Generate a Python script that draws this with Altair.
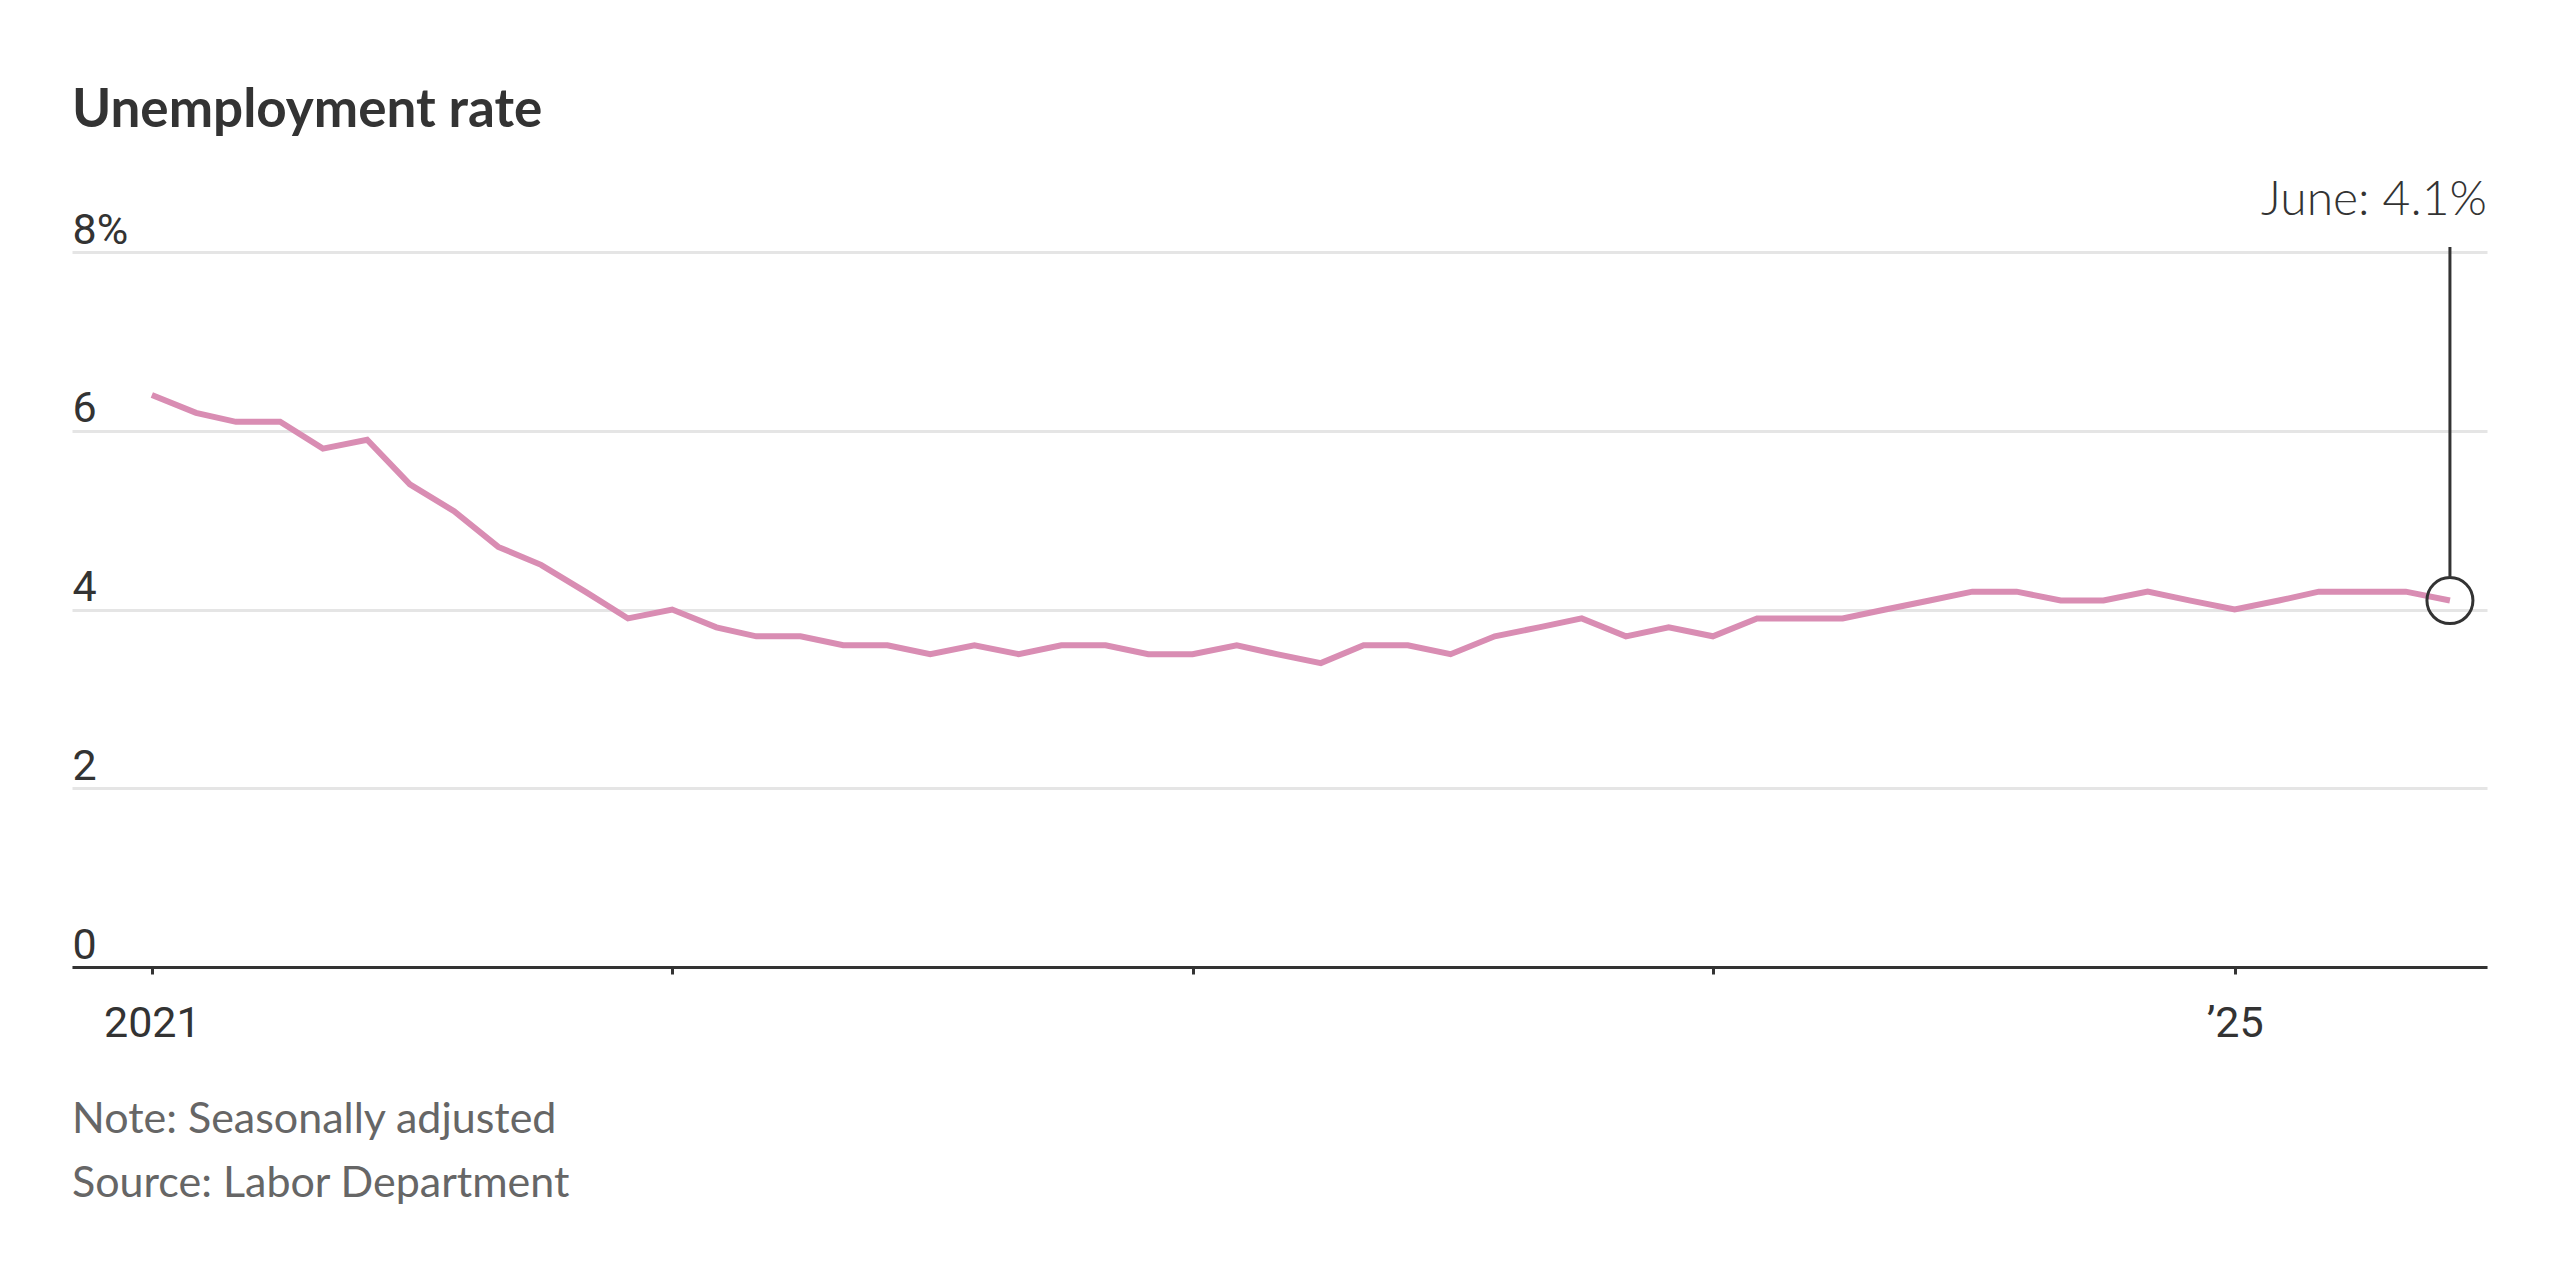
import altair as alt
import pandas as pd

# ---- data ----
years = [2021] * 12 + [2022] * 12 + [2023] * 12 + [2024] * 12 + [2025] * 6
month_nums = list(range(1, 13)) * 4 + [1, 2, 3, 4, 5, 6]
rates = [
    6.4, 6.2, 6.1, 6.1, 5.8, 5.9, 5.4, 5.1, 4.7, 4.5, 4.2, 3.9,
    4.0, 3.8, 3.7, 3.7, 3.6, 3.6, 3.5, 3.6, 3.5, 3.6, 3.6, 3.5,
    3.5, 3.6, 3.5, 3.4, 3.6, 3.6, 3.5, 3.7, 3.8, 3.9, 3.7, 3.8,
    3.7, 3.9, 3.9, 3.9, 4.0, 4.1, 4.2, 4.2, 4.1, 4.1, 4.2, 4.1,
    4.0, 4.1, 4.2, 4.2, 4.2, 4.1,
]
y_ticks = [0, 2, 4, 6, 8]
x_tick_years = [2021, 2022, 2023, 2024, 2025]
last_month_name = "June"
title_text = "Unemployment rate"
note_text = "Note: Seasonally adjusted"
source_text = "Source: Labor Department"

dates = [f"{y}-{m:02d}-01T00:00:00" for y, m in zip(years, month_nums)]
df = pd.DataFrame({"date": dates, "rate": rates})
ann = pd.DataFrame({
    "date": [dates[-1]],
    "rate": [rates[-1]],
    "top": [y_ticks[-1]],
    "label": [f"{last_month_name}: {rates[-1]}%"],
})
note_df = pd.DataFrame({"t": [note_text]})
source_df = pd.DataFrame({"t": [source_text]})

NARROW = "Liberation Sans Narrow, Arial Narrow, Roboto, sans-serif"
REG = "Lato, Roboto, sans-serif"

W, H = 2415, 715

x_scale = alt.Scale(domain=[
    alt.DateTime(year=2020, month=11, date=6),
    alt.DateTime(year=2025, month=6, date=27),
])
y_scale = alt.Scale(domain=[0, 8], nice=False)

x_enc = alt.X(
    "date:T",
    scale=x_scale,
    axis=alt.Axis(
        values=[alt.DateTime(year=y, month=1, date=1) for y in x_tick_years],
        labelExpr="year(datum.value) == 2021 ? '2021' : (year(datum.value) == 2025 ? '\u201925' : '')",
        domain=True, domainColor="#333333", domainWidth=3,
        ticks=True, tickColor="#333333", tickWidth=3, tickSize=7,
        grid=False,
        labelFont=NARROW, labelFontSize=43, labelColor="#333333",
        labelPadding=28, labelBaseline="top", labelFlush=False,
        labelOverlap=False, title=None,
    ),
)
y_enc = alt.Y(
    "rate:Q",
    scale=y_scale,
    axis=alt.Axis(
        values=y_ticks,
        labelExpr="datum.value == 8 ? '8%' : format(datum.value, 'd')",
        domain=False, ticks=False, grid=True,
        gridColor="#e5e5e5", gridWidth=3,
        labelAlign="left", labelBaseline="alphabetic", labelPadding=0,
        labelOffset=-9,
        labelFont=NARROW, labelFontSize=43, labelColor="#333333",
        title=None,
    ),
)

line = alt.Chart(df).mark_line(color="#d98db3", strokeWidth=6).encode(x=x_enc, y=y_enc)

rule = alt.Chart(ann).mark_rule(color="#333333", strokeWidth=3, yOffset=-5, y2Offset=-24).encode(
    x="date:T", y="top:Q", y2="rate:Q"
)

circle = alt.Chart(ann).mark_point(
    shape="circle", size=2116, filled=False, color="#333333", strokeWidth=3, opacity=1
).encode(x="date:T", y="rate:Q")

label = alt.Chart(ann).mark_text(
    align="right", baseline="alphabetic", dx=37, dy=-37,
    font=REG, fontSize=48, fontWeight=300, color="#333333",
).encode(x="date:T", y="top:Q", text="label:N")

note = alt.Chart(note_df).mark_text(
    align="left", baseline="alphabetic", font=REG, fontSize=43, color="#666666",
).encode(x=alt.value(0), y=alt.value(881), text="t:N")

source = alt.Chart(source_df).mark_text(
    align="left", baseline="alphabetic", font=REG, fontSize=43, color="#666666",
).encode(x=alt.value(0), y=alt.value(945), text="t:N")

chart = alt.layer(line, rule, circle, label, note, source).properties(
    width=W, height=H,
    background="white",
    title=alt.TitleParams(
        title_text, anchor="start", font=REG, fontSize=53, fontWeight="bold",
        color="#333333", baseline="alphabetic", offset=-3, frame="group",
    ),
    autosize=alt.AutoSizeParams(type="none"),
    padding={"left": 64, "top": 244, "right": 65, "bottom": 270},
).configure_view(strokeWidth=0, strokeOpacity=0)

chart.save("out.html", embed_options={"renderer": "svg", "actions": False})
